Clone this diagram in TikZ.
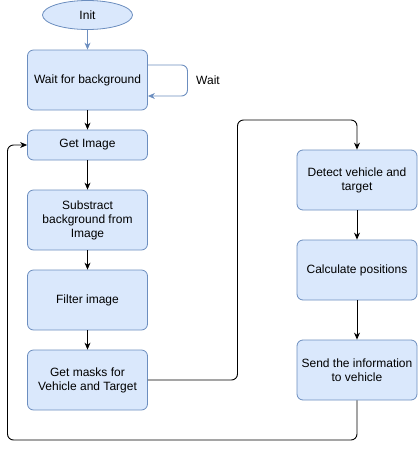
\documentclass[tikz,border=0pt]{standalone}
\usepackage{fontspec}
\setmainfont{Liberation Sans}
\usetikzlibrary{arrows.meta,shapes.geometric}
\definecolor{boxfill}{HTML}{DAE8FC}
\definecolor{boxline}{HTML}{6C8EBF}
\begin{document}
\begin{tikzpicture}[x=1pt,y=-1pt,
  every node/.style={font=\fontsize{12}{14}\selectfont},
  procbox/.style={draw=boxline,fill=boxfill,rounded corners=6pt,minimum width=120pt,align=center,inner sep=2pt,line width=0.8pt},
  startnode/.style={draw=boxline,fill=boxfill,ellipse,minimum width=90pt,minimum height=29pt,inner sep=0pt,line width=0.8pt},
  flow/.style={-{Stealth[length=7pt,width=6pt]},line width=0.9pt,black,rounded corners=6pt},
  softflow/.style={flow,draw=boxline}]
\useasboundingbox (0,0) rectangle (418,459);
\node[startnode] (init) at (87.5,15) {Init};
\node[procbox,minimum height=60pt] (wait) at (87.5,80) {Wait for background};
\node[procbox,minimum height=30pt] (get) at (87.5,145) {Get Image};
\node[procbox,minimum height=60pt] (sub) at (87.5,220) {Substract\\background from\\Image};
\node[procbox,minimum height=60pt] (filt) at (87.5,300) {Filter image};
\node[procbox,minimum height=60pt] (mask) at (87.5,380) {Get masks for\\Vehicle and Target};
\node[procbox,minimum height=60pt] (det) at (357,180) {Detect vehicle and\\target};
\node[procbox,minimum height=60pt] (calc) at (357,270) {Calculate positions};
\node[procbox,minimum height=60pt] (send) at (357,370) {Send the information\\to vehicle};
\node[anchor=west,inner sep=0pt] (waitlbl) at (196,80) {Wait};
\coordinate (lpa) at (187.5,65);
\coordinate (lpb) at (187.5,96);
\coordinate (ma) at (237.5,380);
\coordinate (mb) at (237.5,120);
\coordinate (sa) at (357,440);
\coordinate (sb) at (7.5,440);
\coordinate (sc) at (7.5,145);
\draw[softflow] (init) -- (wait);
\draw[softflow] (wait.east |- lpa) -- (lpa) -- (lpb) -- (wait.east |- lpb);
\draw[flow] (wait) -- (get);
\draw[flow] (get) -- (sub);
\draw[flow] (sub) -- (filt);
\draw[flow] (filt) -- (mask);
\draw[flow] (mask.east) -- (ma) -- (mb) -- (det.north |- mb) -- (det.north);
\draw[flow] (det) -- (calc);
\draw[flow] (calc) -- (send);
\draw[flow] (send.south) -- (sa) -- (sb) -- (sc) -- (get.west);
\end{tikzpicture}
\end{document}
